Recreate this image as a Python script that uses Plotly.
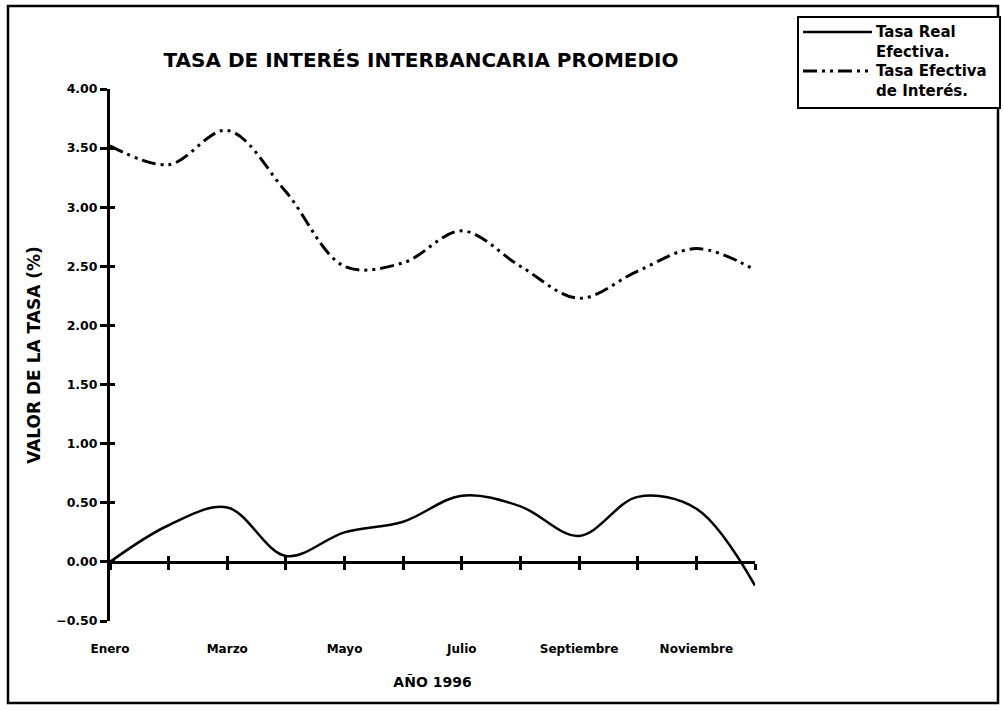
import plotly.graph_objects as go

# Datos (1996)
meses = ["Enero", "Febrero", "Marzo", "Abril", "Mayo", "Junio", "Julio",
         "Agosto", "Septiembre", "Octubre", "Noviembre", "Diciembre"]
tasa_real = [0.00, 0.31, 0.46, 0.05, 0.25, 0.34, 0.56, 0.47, 0.22, 0.55, 0.45, -0.20]
tasa_efectiva = [3.52, 3.36, 3.65, 3.13, 2.50, 2.53, 2.80, 2.50, 2.23, 2.46, 2.65, 2.47]
y_ticks = [-0.5, 0.0, 0.5, 1.0, 1.5, 2.0, 2.5, 3.0, 3.5, 4.0]

x = list(range(len(meses)))
meses_label = [m for i, m in enumerate(meses) if i % 2 == 0]
x_label = [i for i in x if i % 2 == 0]

FONT = "DejaVu Sans, sans-serif"
DASH = "14px,5px,3px,5px,3px,5px"
y_min, y_max = -0.5, 4.0

# area de trazado en pixeles: x 110..755, y 89..621
L, R, T, B = 110, 755, 89, 621
W, H = 1004, 710


def px(v):
    return (v - L) / (R - L)


def py(v):
    return (B - v) / (B - T)


fig = go.Figure()

fig.add_trace(go.Scatter(
    x=x, y=tasa_real, mode="lines", name="Tasa Real Efectiva.",
    line=dict(color="black", width=2.5, shape="spline", smoothing=1.0),
))
fig.add_trace(go.Scatter(
    x=x, y=tasa_efectiva, mode="lines", name="Tasa Efectiva de Interés.",
    line=dict(color="black", width=3, shape="spline", smoothing=1.0, dash=DASH),
))

# trazas invisibles para que se dibujen los ejes superpuestos (ticks cruzados)
for xa, ya in [("x2", "y"), ("x3", "y"), ("x", "y2")]:
    fig.add_trace(go.Scatter(x=x, y=tasa_real, xaxis=xa, yaxis=ya, mode="lines",
                             line=dict(width=0), opacity=0, showlegend=False,
                             hoverinfo="skip"))

zero_pos = (0 - y_min) / (y_max - y_min)
xtick_font = dict(family=FONT, size=12, weight="bold", color="black")
ytick_font = dict(family=FONT, size=12.5, weight="bold", color="black")

fig.update_layout(
    width=W, height=H,
    margin=dict(l=L, r=W - R, t=T, b=H - B),
    paper_bgcolor="white", plot_bgcolor="white",
    font=dict(family=FONT, color="black", size=12),
    showlegend=False,
    title=dict(text="<b>TASA DE INTERÉS INTERBANCARIA PROMEDIO</b>",
               x=px(421), xref="paper", xanchor="center",
               y=1 - 60 / H, yanchor="middle", font=dict(size=20)),
    xaxis=dict(range=[0, 11], showgrid=False, zeroline=False, showline=False,
               tickvals=x_label, ticktext=meses_label, ticks="",
               ticklabelstandoff=19, tickfont=xtick_font,
               title=dict(text="<b>AÑO 1996</b>", font=dict(size=14), standoff=22)),
    xaxis2=dict(range=[0, 11], overlaying="x", anchor="free", position=zero_pos,
                showgrid=False, zeroline=False, showline=True, linecolor="black",
                linewidth=3, ticks="outside", ticklen=6, tickwidth=3, tickcolor="black",
                tickvals=x, showticklabels=False),
    xaxis3=dict(range=[0, 11], overlaying="x", anchor="free", position=zero_pos,
                showgrid=False, zeroline=False, showline=False,
                ticks="inside", ticklen=6, tickwidth=3, tickcolor="black",
                tickvals=x, showticklabels=False),
    yaxis=dict(range=[y_min, y_max], showgrid=False, zeroline=False,
               showline=True, linecolor="black", linewidth=3,
               ticks="outside", ticklen=7, tickwidth=3, tickcolor="black",
               tickvals=y_ticks, tickformat=".2f", tickfont=ytick_font,
               title=dict(text="<b>VALOR DE LA TASA (%)</b>", font=dict(size=17),
                          standoff=12)),
    yaxis2=dict(range=[y_min, y_max], overlaying="y", showgrid=False, zeroline=False,
                showline=False, ticks="inside", ticklen=5, tickwidth=3,
                tickcolor="black", tickvals=y_ticks, showticklabels=False),
)

# marco exterior del grafico
fig.add_shape(type="rect", xref="paper", yref="paper",
              x0=px(8), x1=px(998), y0=py(703), y1=py(6),
              line=dict(color="black", width=2.5), layer="below")

# leyenda (recuadro, muestras de linea y textos)
fig.add_shape(type="rect", xref="paper", yref="paper",
              x0=px(798), x1=px(1000), y0=py(108), y1=py(17),
              line=dict(color="black", width=2), fillcolor="white")
legend_items = [
    ("Tasa Real<br>Efectiva.", dict(color="black", width=2.5), 32),
    ("Tasa Efectiva<br>de Interés.", dict(color="black", width=3, dash=DASH), 71),
]
for texto, estilo, ypix in legend_items:
    fig.add_shape(type="line", xref="paper", yref="paper",
                  x0=px(803), x1=px(872), y0=py(ypix), y1=py(ypix), line=estilo)
    fig.add_annotation(xref="paper", yref="paper", x=px(874), y=py(ypix - 11),
                       xanchor="left", yanchor="top", align="left", showarrow=False,
                       text="<b>" + texto + "</b>",
                       font=dict(family=FONT, size=15, color="black"))

fig.write_html("out.html", config={"displayModeBar": False},
               post_script="document.body.style.margin='0';")
